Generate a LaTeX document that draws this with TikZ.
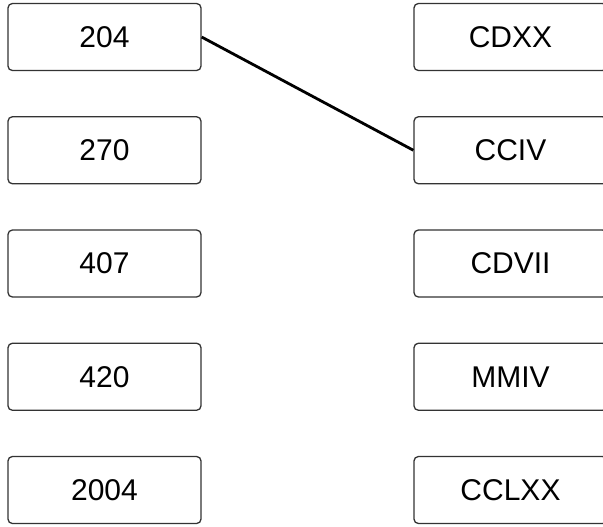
\documentclass[tikz,border=0pt]{standalone}
\usepackage{fontspec}
\setmainfont{Liberation Sans}
\begin{document}
\begin{tikzpicture}[x = 0.5pt, y = -0.5pt,
        box/.style = {draw = black!80, line width = 0.65pt, rounded corners = 2.2pt,
            minimum width = 96.5pt, minimum height = 33.5pt, inner sep = 0pt,
            font = \fontsize{15}{18}\selectfont}]
        \useasboundingbox (0, 0) rectangle (603, 526);
        \foreach \arab/\rom [count = \i] in {204/CDXX, 270/CCIV, 407/CDVII, 420/MMIV, 2004/CCLXX} {
            \node [box] (n\i) at (104.5, {37 + 113.25*(\i-1)}) {\arab};
            \node [box] (r\i) at (510.5, {37 + 113.25*(\i-1)}) {\rom};
        }
        \draw [line width = 1.4pt] (n1.east) -- (r2.west);
    \end{tikzpicture}
\end{document}
